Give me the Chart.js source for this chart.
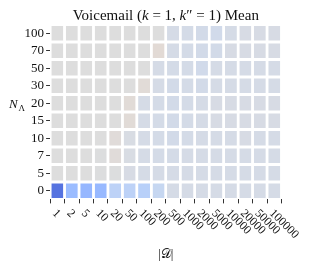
<!DOCTYPE html>
<html>
<head>
<meta charset="utf-8">
<script src="https://cdn.jsdelivr.net/npm/chart.js@4"></script>
<style>
  html, body { margin: 0; padding: 0; background: #fff; }
  #wrap { width: 310px; height: 269px; }
</style>
</head>
<body>
<div id="wrap"><canvas id="heat" width="310" height="269"></canvas></div>
<script>
// categorias e valores (médias normalizadas, 0 = neutro)
const xLabels = ['1', '2', '5', '10', '20', '50', '100', '200', '500', '1000', '2000', '5000', '10000', '20000', '50000', '100000'];
const yLabels = ['0', '5', '7', '10', '15', '20', '30', '50', '70', '100'];

const meanN0   = [-0.82, -0.42, -0.45, -0.44, -0.22, -0.22, -0.25, -0.16, -0.06, -0.06, -0.06, -0.06, -0.06, -0.06, -0.06, -0.06];
const meanN5   = [0, 0, 0, -0.01, -0.01, -0.05, -0.06, -0.06, -0.06, -0.06, -0.06, -0.06, -0.06, -0.06, -0.06, -0.06];
const meanN7   = [0, 0, 0, -0.01, 0.02, -0.04, -0.06, -0.07, -0.07, -0.06, -0.06, -0.06, -0.06, -0.06, -0.06, -0.06];
const meanN10  = [0, 0, 0, 0, 0.02, -0.04, -0.06, -0.07, -0.08, -0.07, -0.06, -0.06, -0.06, -0.05, -0.06, -0.06];
const meanN15  = [0, 0, 0, 0, 0, 0.03, -0.06, -0.07, -0.08, -0.07, -0.06, -0.05, -0.05, -0.05, -0.05, -0.05];
const meanN20  = [0, 0, 0, 0, 0, 0.03, -0.06, -0.07, -0.08, -0.07, -0.06, -0.05, -0.05, -0.05, -0.05, -0.05];
const meanN30  = [0, 0, 0, 0, 0, 0, 0.03, -0.06, -0.08, -0.07, -0.08, -0.06, -0.06, -0.06, -0.06, -0.06];
const meanN50  = [0, 0, 0, 0, 0, 0, 0, -0.06, -0.07, -0.07, -0.09, -0.06, -0.06, -0.06, -0.06, -0.06];
const meanN70  = [0, 0, 0, 0, 0, 0, 0, 0.04, -0.06, -0.07, -0.08, -0.08, -0.05, -0.05, -0.05, -0.05];
const meanN100 = [0, 0, 0, 0, 0, 0, 0, 0, -0.06, -0.07, -0.08, -0.09, -0.06, -0.05, -0.05, -0.05];

const meanRows = [meanN0, meanN5, meanN7, meanN10, meanN15, meanN20, meanN30, meanN50, meanN70, meanN100];

// mapa de cores coolwarm (-1 .. 1)
const coolwarm = [[59,76,192],[68,90,204],[77,104,215],[87,117,225],[98,130,234],[108,142,241],[119,154,247],[130,165,251],[141,176,254],[152,185,255],[163,194,255],[174,201,253],[184,208,249],[194,213,244],[204,217,238],[213,219,230],[221,221,221],[229,216,209],[236,211,197],[241,204,184],[245,196,173],[247,187,160],[247,177,148],[247,166,135],[244,154,123],[241,141,111],[236,127,99],[229,112,88],[222,96,77],[213,80,66],[203,62,56],[192,40,47],[180,4,38]];

function corDoValor(v) {
  const t = Math.min(1, Math.max(0, (v + 1) / 2)) * (coolwarm.length - 1);
  const i = Math.min(coolwarm.length - 2, Math.floor(t));
  const f = t - i;
  const a = coolwarm[i], b = coolwarm[i + 1];
  const c = a.map((ch, k) => Math.round(ch + (b[k] - ch) * f));
  return `rgb(${c[0]},${c[1]},${c[2]})`;
}

const serif = '"Liberation Serif", "DejaVu Serif", serif';

const datasets = meanRows.map((row, r) => ({
  label: yLabels[r],
  data: row.map(() => 1),
  backgroundColor: row.map(corDoValor),
  borderColor: '#ffffff',
  borderWidth: { top: 1.5, bottom: 1.5, left: 0, right: 0 },
  borderSkipped: false,
  barPercentage: 0.83,
  categoryPercentage: 1.0
}));

// textos extras: título, rótulos girados do eixo x e títulos dos eixos
const textosPlugin = {
  id: 'textos',
  afterDraw(chart) {
    const ctx = chart.ctx;
    const area = chart.chartArea;
    const xScale = chart.scales.x;
    ctx.save();
    ctx.fillStyle = '#111';

    // título com k em itálico
    const partes = [
      ['Voicemail (', ''], ['k', 'italic '], [' = 1, ', ''], ['k', 'italic '], ['\u2033', ''], [' = 1) Mean', '']
    ];
    let total = 0;
    partes.forEach(p => { ctx.font = p[1] + '15px ' + serif; total += ctx.measureText(p[0]).width; });
    let x = (area.left + area.right) / 2 - total / 2;
    ctx.textBaseline = 'alphabetic';
    ctx.textAlign = 'left';
    partes.forEach(p => {
      ctx.font = p[1] + '15px ' + serif;
      ctx.fillText(p[0], x, 20);
      x += ctx.measureText(p[0]).width;
    });

    // rótulos do eixo x, girados 45 graus
    ctx.font = '12px ' + serif;
    ctx.textBaseline = 'middle';
    xLabels.forEach((lab, i) => {
      const px = xScale.getPixelForTick(i);
      ctx.save();
      ctx.translate(px - 3, area.bottom + 12);
      ctx.rotate(Math.PI / 4);
      ctx.fillText(lab, 0, 0);
      ctx.restore();
    });

    // título do eixo x
    ctx.textAlign = 'center';
    ctx.textBaseline = 'alphabetic';
    ctx.font = '13px ' + serif;
    ctx.fillText('|\u{1D49F}|', (area.left + area.right) / 2, 258);

    // título do eixo y: N com índice Λ
    ctx.textAlign = 'left';
    ctx.font = 'italic 13px ' + serif;
    ctx.fillText('N', 9, 108);
    ctx.font = '9px ' + serif;
    ctx.fillText('\u039B', 18.5, 111);

    ctx.restore();
  }
};

new Chart(document.getElementById('heat').getContext('2d'), {
  type: 'bar',
  data: { labels: xLabels, datasets: datasets },
  options: {
    responsive: false,
    animation: false,
    layout: { padding: { top: 24.6, right: 28.5, left: 0, bottom: 0 } },
    plugins: { legend: { display: false }, tooltip: { enabled: false } },
    scales: {
      x: {
        stacked: true,
        grid: { display: true, drawOnChartArea: false, drawTicks: true, tickLength: 4, color: '#333' },
        border: { display: false },
        ticks: { color: 'rgba(0,0,0,0)', maxRotation: 0, autoSkip: false, font: { size: 12, family: serif } },
        afterFit(axis) { axis.height = 69.6; }
      },
      y: {
        stacked: true,
        min: 0,
        max: yLabels.length,
        afterBuildTicks(axis) {
          axis.ticks = yLabels.map((_, i) => ({ value: i + 0.5 }));
        },
        grid: { display: true, drawOnChartArea: false, drawTicks: true, tickLength: 4, color: '#333' },
        border: { display: false },
        ticks: {
          color: '#111',
          padding: 2,
          font: { size: 13, family: serif },
          callback: (v) => yLabels[Math.floor(v)]
        },
        afterFit(axis) { axis.width = 50.1; }
      }
    }
  },
  plugins: [textosPlugin]
});
</script>
</body>
</html>
